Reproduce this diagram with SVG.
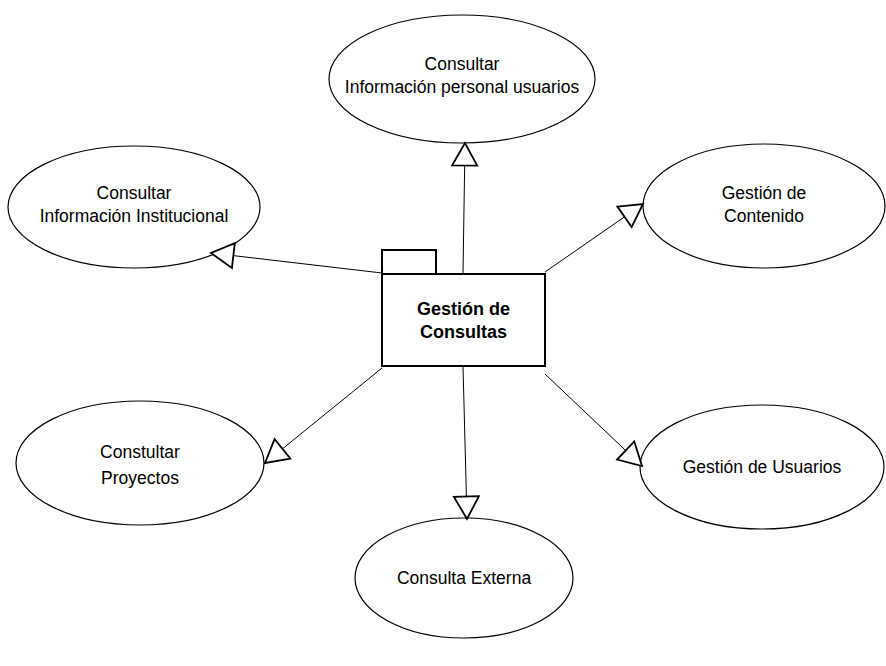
<svg xmlns="http://www.w3.org/2000/svg" width="886" height="666" viewBox="0 0 886 666">
  <style>
    .uc { fill: #ffffff; stroke: #000000; stroke-width: 1.2; }
    .pkg { fill: #ffffff; stroke: #000000; stroke-width: 2; }
    .lbl { font-family: "Liberation Sans", Arial, sans-serif; font-size: 17.5px; fill: #000000; text-anchor: middle; }
    .bold { font-weight: bold; font-size: 18px; }
    .dep { stroke: #000000; stroke-width: 1; fill: none; marker-end: url(#hollow); }
  </style>
  <defs>
    <!-- hollow triangle arrowhead (generalization) -->
    <marker id="hollow" viewBox="0 0 26 28" refX="24" refY="14" markerWidth="26" markerHeight="28" markerUnits="userSpaceOnUse" orient="auto">
      <path d="M1.5,1.5 L24,14 L1.5,26.5 Z" fill="#ffffff" stroke="#000000" stroke-width="1.8" stroke-linejoin="miter"/>
    </marker>
  </defs>
  <rect width="886" height="666" fill="#ffffff"/>

  <g id="uc-info-personal">
    <ellipse class="uc" cx="462" cy="79" rx="133" ry="64"/>
    <text class="lbl" x="462" y="70">Consultar</text>
    <text class="lbl" x="462" y="93">Información personal usuarios</text>
  </g>

  <g id="uc-info-institucional">
    <ellipse class="uc" cx="134" cy="207" rx="126" ry="61"/>
    <text class="lbl" x="134" y="199">Consultar</text>
    <text class="lbl" x="134" y="222">Información Institucional</text>
  </g>

  <g id="uc-contenido">
    <ellipse class="uc" cx="764" cy="206" rx="121" ry="62"/>
    <text class="lbl" x="764" y="199">Gestión de</text>
    <text class="lbl" x="764" y="222">Contenido</text>
  </g>

  <g id="uc-proyectos">
    <ellipse class="uc" cx="140" cy="463" rx="124" ry="62"/>
    <text class="lbl" x="140" y="458">Constultar</text>
    <text class="lbl" x="140" y="484">Proyectos</text>
  </g>

  <g id="uc-usuarios">
    <ellipse class="uc" cx="762" cy="467" rx="122" ry="62"/>
    <text class="lbl" x="762" y="473">Gestión de Usuarios</text>
  </g>

  <g id="uc-externa">
    <ellipse class="uc" cx="464" cy="578" rx="109" ry="60"/>
    <text class="lbl" x="464" y="584">Consulta Externa</text>
  </g>

  <g id="connectors">
    <line class="dep" x1="463" y1="274" x2="465" y2="143"/>
    <line class="dep" x1="382" y1="273" x2="211" y2="253"/>
    <line class="dep" x1="545" y1="272" x2="643" y2="204"/>
    <line class="dep" x1="382" y1="368" x2="265" y2="463"/>
    <line class="dep" x1="545" y1="374" x2="642" y2="466"/>
    <line class="dep" x1="463" y1="366" x2="467" y2="519"/>
  </g>

  <g id="pkg-gestion-consultas">
    <rect class="pkg" x="382" y="250" width="54" height="24"/>
    <rect class="pkg" x="382" y="274" width="163" height="92"/>
    <text class="lbl bold" x="463.5" y="315">Gestión de</text>
    <text class="lbl bold" x="463.5" y="338">Consultas</text>
  </g>
</svg>
